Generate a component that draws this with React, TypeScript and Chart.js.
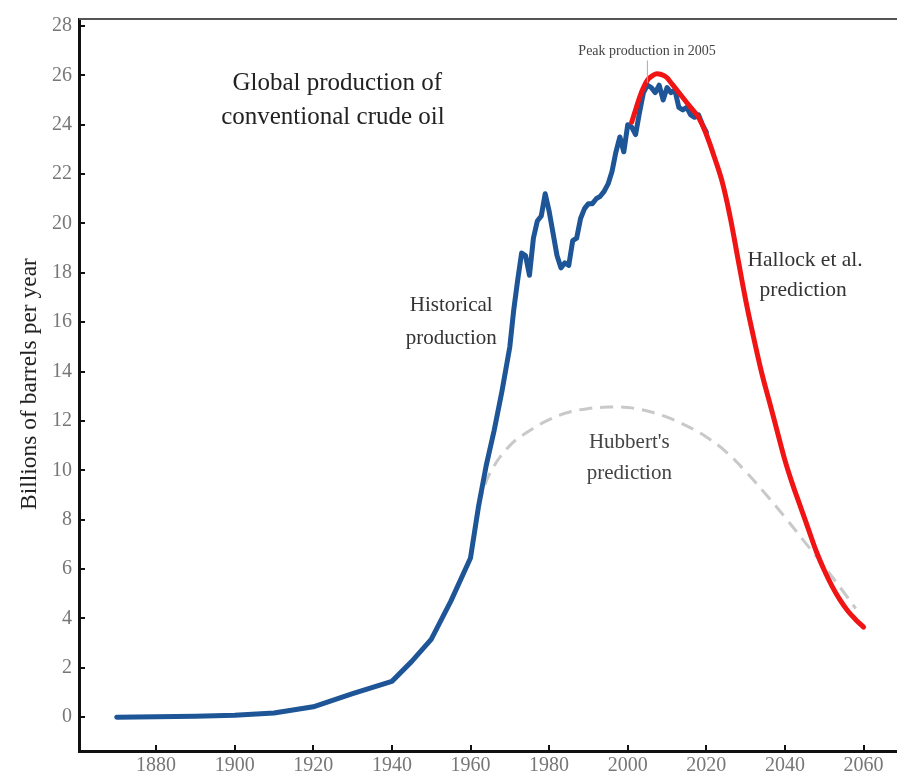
import React, { useEffect, useRef } from "react";
import { Chart, registerables } from "chart.js";

Chart.register(...registerables);

// Historical production (year, billions of barrels per year)
const HIST_YEARS = [1870, 1880, 1890, 1900, 1910, 1920, 1930, 1940, 1945, 1950, 1955, 1960, 1962, 1964, 1966, 1968, 1970, 1971, 1972, 1973, 1974, 1975, 1976, 1977, 1978, 1979, 1980, 1981, 1982, 1983, 1984, 1985, 1986, 1987, 1988, 1989, 1990, 1991, 1992, 1993, 1994, 1995, 1996, 1997, 1998, 1999, 2000, 2001, 2002, 2003, 2004, 2005, 2006, 2007, 2008, 2009, 2010, 2011, 2012, 2013, 2014, 2015, 2016, 2017, 2018, 2019, 2020];
const HIST_VALUES = [0, 0.02, 0.04, 0.08, 0.17, 0.42, 0.95, 1.45, 2.25, 3.15, 4.7, 6.45, 8.5, 10.2, 11.6, 13.2, 15.0, 16.5, 17.7, 18.8, 18.7, 17.9, 19.4, 20.1, 20.3, 21.2, 20.5, 19.6, 18.7, 18.2, 18.4, 18.3, 19.3, 19.4, 20.2, 20.6, 20.8, 20.8, 21.0, 21.1, 21.3, 21.6, 22.1, 22.9, 23.5, 22.9, 24.0, 23.9, 23.6, 24.5, 25.3, 25.6, 25.5, 25.3, 25.6, 25.0, 25.5, 25.3, 25.4, 24.7, 24.6, 24.7, 24.4, 24.3, 24.4, 24.0, 23.7];

// Hallock et al. prediction
const HALLOCK_YEARS = [2001, 2002, 2003, 2004, 2005, 2006, 2007, 2008, 2009, 2010, 2011, 2012, 2014, 2016, 2018, 2020, 2022, 2024, 2026, 2028, 2030, 2032, 2034, 2036, 2038, 2040, 2042, 2044, 2046, 2048, 2050, 2052, 2054, 2056, 2058, 2060];
const HALLOCK_VALUES = [24.1, 24.6, 25.1, 25.5, 25.8, 25.95, 26.05, 26.05, 26.0, 25.9, 25.7, 25.5, 25.1, 24.7, 24.3, 23.6, 22.7, 21.7, 20.3, 18.6, 16.9, 15.4, 14.0, 12.8, 11.6, 10.4, 9.4, 8.5, 7.6, 6.7, 5.95, 5.3, 4.75, 4.3, 3.95, 3.65];

// Hubbert's prediction
const HUBBERT_YEARS = [1962, 1965, 1970, 1975, 1980, 1985, 1990, 1995, 2000, 2005, 2010, 2015, 2020, 2025, 2030, 2035, 2040, 2045, 2050, 2055, 2058];
const HUBBERT_VALUES = [8.6, 9.9, 11.0, 11.6, 12.05, 12.35, 12.5, 12.56, 12.54, 12.4, 12.15, 11.8, 11.35, 10.75, 9.95, 9.05, 8.1, 7.1, 6.1, 5.05, 4.4];

const X_TICKS = [1880, 1900, 1920, 1940, 1960, 1980, 2000, 2020, 2040, 2060];
const Y_TICKS = [0, 2, 4, 6, 8, 10, 12, 14, 16, 18, 20, 22, 24, 26, 28];

const Y_TITLE = "Billions of barrels per year";

// text labels anchored in data coordinates [text, year, value, colour, size]
const LABELS: [string, number, number, string, number][] = [
  ["Global production of", 1926.1, 25.66, "#222", 25],
  ["conventional crude oil", 1925.0, 24.3, "#222", 25],
  ["Historical", 1955.1, 16.67, "#333", 21],
  ["production", 1955.1, 15.34, "#333", 21],
  ["Hubbert's", 2000.4, 11.12, "#444", 21],
  ["prediction", 2000.4, 9.88, "#444", 21],
  ["Hallock et al.", 2045.1, 18.5, "#333", 21.5],
  ["prediction", 2044.6, 17.27, "#333", 21.5],
  ["Peak production in 2005", 2004.9, 26.99, "#444", 14],
];
const PEAK_YEAR = 2005;

const SERIF = "'Liberation Serif', 'DejaVu Serif', serif";

const zip = (xs: number[], ys: number[]) => xs.map((x, i) => ({ x, y: ys[i] }));

const decorPlugin = {
  id: "decor",
  afterDraw(chart: any) {
    const { ctx, chartArea, scales } = chart;
    const xs = scales.x;
    const ys = scales.y;
    ctx.save();
    // top spine
    ctx.strokeStyle = "#555";
    ctx.lineWidth = 2;
    ctx.beginPath();
    ctx.moveTo(chartArea.left, chartArea.top);
    ctx.lineTo(chartArea.right, chartArea.top);
    ctx.stroke();
    // inside ticks
    ctx.strokeStyle = "#111";
    ctx.lineWidth = 2;
    ctx.beginPath();
    Y_TICKS.forEach((v) => {
      const y = Math.round(ys.getPixelForValue(v));
      ctx.moveTo(chartArea.left, y);
      ctx.lineTo(chartArea.left + 6, y);
    });
    X_TICKS.forEach((v) => {
      const x = Math.round(xs.getPixelForValue(v));
      ctx.moveTo(x, chartArea.bottom);
      ctx.lineTo(x, chartArea.bottom - 6);
    });
    ctx.stroke();
    // peak marker line
    const px = xs.getPixelForValue(PEAK_YEAR);
    ctx.strokeStyle = "#aaa";
    ctx.lineWidth = 1;
    ctx.beginPath();
    ctx.moveTo(px, ys.getPixelForValue(26.6));
    ctx.lineTo(px, ys.getPixelForValue(25.7));
    ctx.stroke();
    // labels
    ctx.textAlign = "center";
    ctx.textBaseline = "middle";
    LABELS.forEach(([t, x, y, c, s]) => {
      ctx.fillStyle = c;
      ctx.font = `${s}px ${SERIF}`;
      ctx.fillText(t, xs.getPixelForValue(x), ys.getPixelForValue(y));
    });
    // y title
    ctx.translate(30, 384);
    ctx.rotate(-Math.PI / 2);
    ctx.fillStyle = "#222";
    ctx.font = `23.5px ${SERIF}`;
    ctx.fillText(Y_TITLE, 0, 0);
    ctx.restore();
  },
};

export default function App() {
  const ref = useRef<HTMLCanvasElement>(null);
  useEffect(() => {
    if (!ref.current) return;
    const chart = new Chart(ref.current, {
      type: "line",
      data: {
        datasets: [
          {
            label: "Hubbert",
            data: zip(HUBBERT_YEARS, HUBBERT_VALUES),
            borderColor: "#c9c9c9",
            borderWidth: 3,
            borderDash: [13, 8],
            pointRadius: 0,
            tension: 0.4,
            order: 3,
          },
          {
            label: "Historical",
            data: zip(HIST_YEARS, HIST_VALUES),
            borderColor: "#1d5597",
            borderWidth: 5,
            pointRadius: 0,
            tension: 0,
            borderJoinStyle: "round",
            borderCapStyle: "round",
            order: 2,
          },
          {
            label: "Hallock",
            data: zip(HALLOCK_YEARS, HALLOCK_VALUES),
            borderColor: "#f01414",
            borderWidth: 5,
            pointRadius: 0,
            tension: 0.4,
            borderCapStyle: "round",
            order: 1,
          },
        ],
      },
      options: {
        animation: false,
        responsive: false,
        devicePixelRatio: 1,
        layout: { padding: { top: 13, right: 0, left: 0, bottom: 0 } },
        plugins: { legend: { display: false }, tooltip: { enabled: false } },
        scales: {
          x: {
            type: "linear",
            min: 1860.4,
            max: 2068.5,
            grid: { display: false, drawTicks: false },
            border: { display: true, color: "#111", width: 3 },
            ticks: {
              color: "#777",
              font: { family: SERIF, size: 20 },
              padding: 3,
              maxRotation: 0,
              callback: (v: any) => String(v),
            },
            afterBuildTicks: (s: any) => {
              s.ticks = X_TICKS.map((v) => ({ value: v }));
            },
            afterFit: (s: any) => {
              s.height = 25;
            },
          },
          y: {
            type: "linear",
            min: -1.37,
            max: 28.28,
            grid: { display: false, drawTicks: false },
            border: { display: true, color: "#111", width: 3 },
            ticks: {
              color: "#777",
              font: { family: SERIF, size: 20 },
              padding: 7,
              callback: (v: any) => String(v),
            },
            afterBuildTicks: (s: any) => {
              s.ticks = Y_TICKS.map((v) => ({ value: v }));
            },
            afterFit: (s: any) => {
              s.width = 79;
            },
          },
        },
      },
      plugins: [decorPlugin],
    } as any);
    return () => chart.destroy();
  }, []);
  return (
    <div style={{ position: "fixed", left: 0, top: 0, width: 897, height: 776, background: "#fff" }}>
      <canvas ref={ref} width={897} height={776} />
    </div>
  );
}
